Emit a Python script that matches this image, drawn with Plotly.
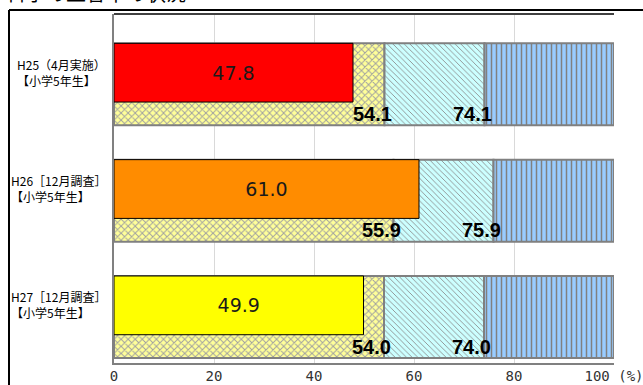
import plotly.graph_objects as go

# Survey groups (two-line labels) and results in percent
label_line1 = ["H25（4月実施）", "H26［12月調査］", "H27［12月調査］"]
label_line2 = ["【小学5年生】", "【小学5年生】", "【小学5年生】"]
school_rate = [47.8, 61.0, 49.9]
cum_band1 = [54.1, 55.9, 54.0]
cum_band2 = [74.1, 75.9, 74.0]
bar_colors = ["#FF0000", "#FF8C00", "#FFFF00"]
tick_values = [0, 20, 40, 60, 80, 100]
tick_labels = ["0", "20", "40", "60", "80", "100 (%)"]

pos = list(range(len(label_line1)))
full = [100.0] * len(pos)

BG_OFFSET, BG_WIDTH = -0.248, 0.705
FG_WIDTH = 0.505

fig = go.Figure()

outline = dict(color="#808080", width=2)

# Stacked reference bands drawn as segments with explicit bases
segments = [
    (list(zip([0.0] * 3, cum_band1)), "x", "#FFFF99", "#A0A0A0", 5, 0.35),
    (list(zip(cum_band1, cum_band2)), "\\", "#CCFFFF", "#8C8C8C", 4, 0.22),
    (list(zip(cum_band2, full)), "|", "#99CCFF", "#808080", 5, 0.3),
]
for spans, shape, bg, fg, size, sol in segments:
    fig.add_trace(go.Bar(
        orientation="h",
        y=pos,
        base=[a for a, b in spans],
        x=[b - a for a, b in spans],
        offset=BG_OFFSET,
        width=BG_WIDTH,
        marker=dict(
            color=bg,
            line=outline,
            pattern=dict(shape=shape, bgcolor=bg, fgcolor=fg, size=size,
                         solidity=sol, fillmode="replace"),
        ),
        hoverinfo="skip",
        showlegend=False,
    ))

# School result bars with their values
fig.add_trace(go.Bar(
    orientation="h",
    y=pos,
    x=school_rate,
    offset=BG_OFFSET,
    width=FG_WIDTH,
    marker=dict(color=bar_colors, line=dict(color="#000000", width=1)),
    text=[f"{v:.1f}" for v in school_rate],
    textposition="inside",
    insidetextanchor="middle",
    textangle=0,
    constraintext="none",
    textfont=dict(family="DejaVu Sans", size=19, color="#1a1a1a"),
    showlegend=False,
))

annotations = []
for i in pos:
    annotations.append(dict(
        x=-0.012, xref="paper", y=i, yref="y",
        text=f"{label_line1[i]}<br>{label_line2[i]}",
        showarrow=False, xanchor="right", yanchor="middle", align="left",
        font=dict(family="Noto Sans CJK JP", size=12, color="#000000"),
    ))
    for v in (cum_band1[i], cum_band2[i]):
        annotations.append(dict(
            x=v, xref="x", y=i + 0.36, yref="y",
            text=f"{v:.1f}", showarrow=False, xanchor="right", yanchor="middle",
            xshift=9,
            font=dict(family="Liberation Sans", size=20, color="#000000", weight="bold"),
        ))

annotations.append(dict(
    x=-0.22, xref="paper", y=1.014, yref="paper",
    text="科学の正答率の状況", showarrow=False, xanchor="left", yanchor="bottom",
    font=dict(family="Noto Sans CJK JP", size=20, color="#000000"),
))

shapes = [
    dict(type="line", xref="paper", yref="paper", x0=-0.21, x1=1.1, y0=1.0115, y1=1.0115,
         line=dict(color="#000000", width=2)),
    dict(type="line", xref="paper", yref="paper", x0=-0.21, x1=-0.21, y0=1.0115, y1=-0.2,
         line=dict(color="#000000", width=2)),
    dict(type="line", xref="paper", yref="paper", x0=0, x1=1, y0=1, y1=1,
         line=dict(color="#404040", width=2)),
]

fig.update_layout(
    width=643, height=385,
    margin=dict(l=114, r=29, t=14, b=22, autoexpand=False),
    paper_bgcolor="#FFFFFF", plot_bgcolor="#FFFFFF",
    barmode="overlay",
    annotations=annotations,
    shapes=shapes,
    xaxis=dict(
        range=[0, 100], tickvals=tick_values, ticktext=tick_labels,
        showgrid=True, gridcolor="#D9D9D9", gridwidth=1,
        showline=True, linecolor="#808080", linewidth=2,
        ticks="", zeroline=False, automargin=False,
        ticklabeloverflow="allow", ticklabelstandoff=-1,
        tickfont=dict(family="DejaVu Sans Mono", size=14, color="#333333"),
    ),
    yaxis=dict(
        range=[2.5, -0.5], showticklabels=False, showgrid=False, zeroline=False,
        showline=True, linecolor="#808080", linewidth=1.5, ticks="", automargin=False,
    ),
    font=dict(family="Noto Sans CJK JP"),
)

fig.write_html("out.html")
